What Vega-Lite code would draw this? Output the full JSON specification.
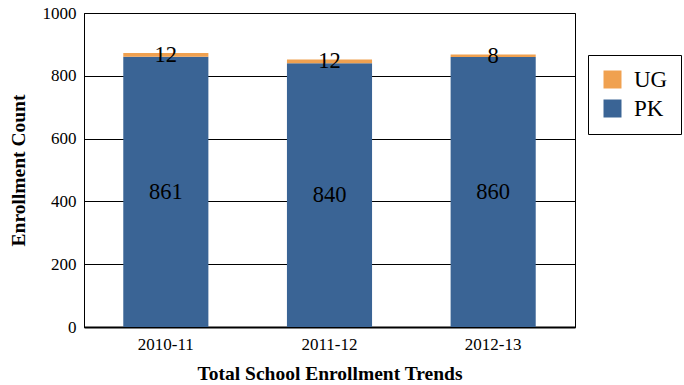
{
  "$schema": "https://vega.github.io/schema/vega-lite/v6.json",
  "width": 491,
  "height": 314,
  "autosize": {"type": "none"},
  "padding": {"left": 84, "top": 13, "right": 109, "bottom": 58},
  "background": "white",
  "config": {
    "font": "Times New Roman",
    "view": {"stroke": "black", "strokeWidth": 1}
  },
  "data": {
    "values": [
      {"year": "2010-11", "series": "PK", "count": 861},
      {"year": "2010-11", "series": "UG", "count": 12},
      {"year": "2011-12", "series": "PK", "count": 840},
      {"year": "2011-12", "series": "UG", "count": 12},
      {"year": "2012-13", "series": "PK", "count": 860},
      {"year": "2012-13", "series": "UG", "count": 8}
    ]
  },
  "encoding": {
    "x": {
      "field": "year",
      "type": "nominal",
      "scale": {"paddingInner": 0.48, "paddingOuter": 0.24},
      "axis": {
        "title": "Total School Enrollment Trends",
        "titleFont": "Times New Roman",
        "titleFontSize": 19.5,
        "titleFontWeight": "bold",
        "titleColor": "black",
        "titlePadding": 12,
        "labelAngle": 0,
        "labelFont": "Times New Roman",
        "labelFontSize": 17,
        "labelColor": "black",
        "labelPadding": 9,
        "ticks": false,
        "domainColor": "black",
        "domainWidth": 2
      }
    }
  },
  "layer": [
    {
      "mark": {"type": "bar"},
      "encoding": {
        "y": {
          "field": "count",
          "type": "quantitative",
          "stack": "zero",
          "scale": {"domain": [0, 1000]},
          "axis": {
            "title": "Enrollment Count",
            "titleFont": "Times New Roman",
            "titleFontSize": 19.5,
            "titleFontWeight": "bold",
            "titleColor": "black",
            "titlePadding": 14,
            "values": [0, 200, 400, 600, 800, 1000],
            "format": "d",
            "labelFont": "Times New Roman",
            "labelFontSize": 17,
            "labelColor": "black",
            "labelPadding": 8,
            "ticks": false,
            "grid": true,
            "gridColor": "black",
            "gridOpacity": 1,
            "gridWidth": 1,
            "domainColor": "black"
          }
        },
        "color": {
          "field": "series",
          "type": "nominal",
          "scale": {"domain": ["UG", "PK"], "range": ["#F0A150", "#3A6495"]},
          "legend": {
            "title": null,
            "orient": "none",
            "legendX": 504,
            "legendY": 42,
            "symbolType": "square",
            "symbolSize": 324,
            "symbolStrokeWidth": 0,
            "labelFont": "Times New Roman",
            "labelFontSize": 23,
            "labelColor": "black",
            "labelOffset": 10,
            "rowPadding": 5,
            "padding": 13,
            "strokeColor": "black",
            "fillColor": "white",
            "offset": 0
          }
        },
        "order": {"field": "series", "sort": "ascending"}
      }
    },
    {
      "mark": {"type": "text", "font": "Times New Roman", "fontSize": 22.5, "color": "black", "baseline": "middle"},
      "encoding": {
        "y": {"field": "count", "type": "quantitative", "stack": "zero", "bandPosition": 0.5},
        "text": {"field": "count", "type": "quantitative"},
        "detail": {"field": "series"},
        "order": {"field": "series", "sort": "ascending"}
      }
    }
  ]
}
